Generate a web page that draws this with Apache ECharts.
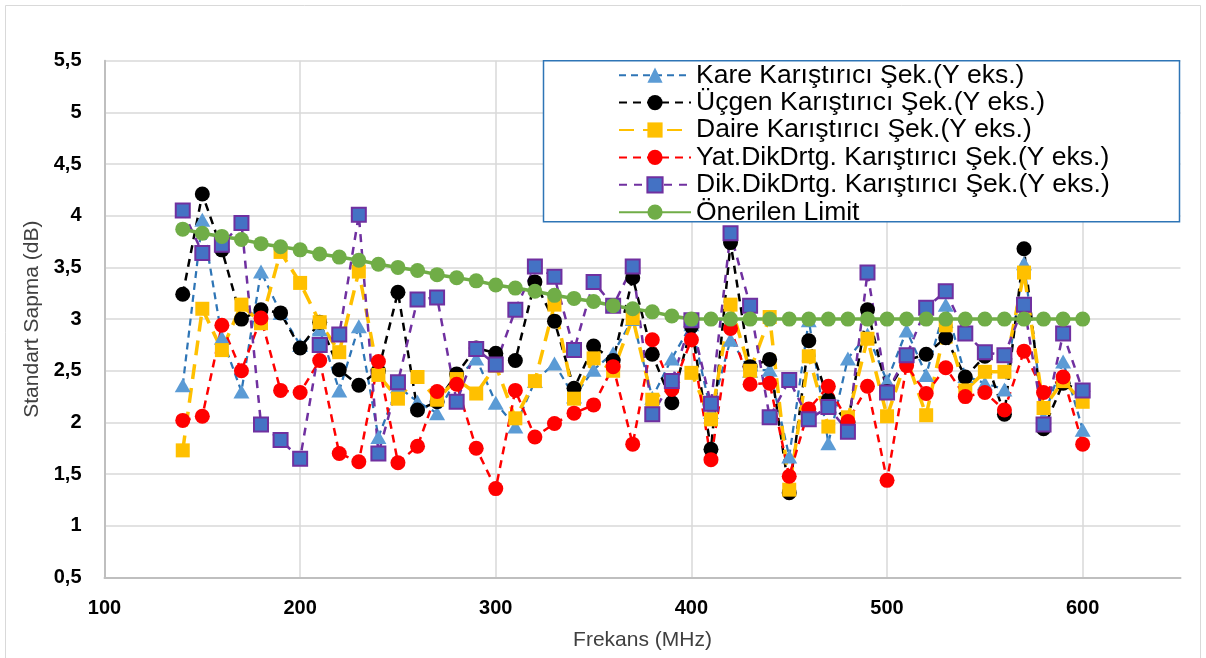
<!DOCTYPE html>
<html>
<head>
<meta charset="utf-8">
<script src="https://cdn.jsdelivr.net/npm/echarts@6/dist/echarts.min.js"></script>
<style>
html,body{margin:0;padding:0;background:#fff;}
#chart{width:1206px;height:658px;}
</style>
</head>
<body>
<div id="chart"></div>
<script>
const freqs = [140,150,160,170,180,190,200,210,220,230,240,250,260,270,280,290,300,310,320,330,340,350,360,370,380,390,400,410,420,430,440,450,460,470,480,490,500,510,520,530,540,550,560,570,580,590,600];

const kare = [2.36,3.96,2.82,2.30,3.46,3.06,2.75,2.90,2.31,2.93,1.86,2.35,2.20,2.09,2.42,2.62,2.19,1.96,2.40,2.57,2.25,2.51,2.67,3.00,2.24,2.62,2.95,2.10,2.80,2.50,2.51,1.67,2.99,1.80,2.62,2.85,2.40,2.89,2.46,3.14,2.45,2.38,2.32,3.54,2.05,2.59,1.93];

const ucgen = [3.24,4.21,3.67,3.00,3.09,3.06,2.72,2.97,2.51,2.36,2.50,3.26,2.12,2.20,2.47,2.72,2.67,2.60,3.36,2.98,2.33,2.74,2.60,3.40,2.66,2.19,2.93,1.74,3.74,2.54,2.61,1.32,2.79,2.22,2.00,3.09,2.30,2.60,2.66,2.82,2.44,2.64,2.08,3.68,1.94,2.38,2.30];

const daire = [1.73,3.10,2.70,3.14,2.96,3.65,3.35,2.97,2.68,3.46,2.46,2.23,2.44,2.22,2.42,2.28,2.55,2.04,2.40,3.14,2.23,2.62,2.50,3.01,2.22,2.35,2.48,2.03,3.14,2.50,3.02,1.35,2.64,1.96,2.05,2.81,2.06,2.62,2.07,2.94,2.31,2.49,2.49,3.45,2.14,2.40,2.20];

const yatDik = [2.02,2.06,2.94,2.50,3.01,2.31,2.29,2.60,1.70,1.62,2.59,1.61,1.77,2.30,2.37,1.75,1.36,2.31,1.86,1.99,2.09,2.17,2.54,1.79,2.80,2.32,2.80,1.64,2.91,2.37,2.38,1.48,2.13,2.35,2.01,2.35,1.44,2.55,2.28,2.53,2.25,2.29,2.12,2.69,2.29,2.44,1.79];

const dikDik = [4.05,3.64,3.72,3.93,1.98,1.83,1.65,2.75,2.85,4.01,1.70,2.39,3.19,3.21,2.20,2.71,2.56,3.09,3.51,3.41,2.70,3.36,3.13,3.51,2.08,2.40,2.99,2.18,3.83,3.13,2.05,2.41,2.03,2.15,1.91,3.45,2.29,2.65,3.11,3.27,2.86,2.68,2.65,3.14,1.98,2.86,2.31];

const limit = [3.87,3.83,3.80,3.77,3.73,3.70,3.67,3.63,3.60,3.57,3.53,3.50,3.47,3.43,3.40,3.37,3.33,3.30,3.27,3.23,3.20,3.17,3.13,3.10,3.07,3.03,3.00,3.00,3.00,3.00,3.00,3.00,3.00,3.00,3.00,3.00,3.00,3.00,3.00,3.00,3.00,3.00,3.00,3.00,3.00,3.00,3.00];

const seriesNames = [
  'Kare Karıştırıcı Şek.(Y eks.)',
  'Üçgen Karıştırıcı Şek.(Y eks.)',
  'Daire Karıştırıcı Şek.(Y eks.)',
  'Yat.DikDrtg. Karıştırıcı Şek.(Y eks.)',
  'Dik.DikDrtg. Karıştırıcı Şek.(Y eks.)',
  'Önerilen Limit'
];

const xTicks = [100,200,300,400,500,600];
const yTicks = ['0,5','1','1,5','2','2,5','3','3,5','4','4,5','5','5,5'];

function pairs(vals){ return freqs.map((f,i)=>[f, vals[i]]); }

const FONT = '"Liberation Sans", Arial, sans-serif';

const chart = echarts.init(document.getElementById('chart'), null, {renderer:'canvas'});

const option = {
  animation: false,
  backgroundColor: '#fff',
  grid: { left: 104.5, right: 25.5, top: 60.7, bottom: 80.5, containLabel: false },
  xAxis: {
    type: 'value', min: 100, max: 650, interval: 100,
    name: 'Frekans (MHz)', nameLocation: 'middle', nameGap: 52,
    nameTextStyle: { fontFamily: FONT, fontSize: 21, color: '#404040' },
    axisLine: { show: true, lineStyle: { color: '#BFBFBF', width: 2 } },
    axisTick: { show: false },
    axisLabel: {
      margin: 21, fontFamily: FONT, fontSize: 20, fontWeight: 'bold', color: '#000',
      showMaxLabel: false,
      formatter: v => (xTicks.indexOf(v) >= 0 ? String(v) : '')
    },
    splitLine: { show: true, showMaxLine: false, lineStyle: { color: '#D9D9D9', width: 1.5 } }
  },
  yAxis: {
    type: 'value', min: 0.5, max: 5.5, interval: 0.5,
    name: 'Standart Sapma (dB)', nameLocation: 'middle', nameGap: 56, nameRotate: 90,
    nameTextStyle: { fontFamily: FONT, fontSize: 21, color: '#404040' },
    axisLine: { show: true, lineStyle: { color: '#BFBFBF', width: 2 } },
    axisTick: { show: false },
    axisLabel: {
      margin: 23, fontFamily: FONT, fontSize: 20, fontWeight: 'bold', color: '#000',
      formatter: v => yTicks[Math.round((v - 0.5) / 0.5)]
    },
    splitLine: { show: true, lineStyle: { color: '#D9D9D9', width: 1.5 } }
  },
  legend: {
    orient: 'vertical', left: 618, top: 61.5, padding: 0, itemGap: 0,
    itemWidth: 72, itemHeight: 19,
    textStyle: { fontFamily: FONT, fontSize: 26.5, lineHeight: 27.4, color: '#000' },
    data: seriesNames
  },
  graphic: {
    elements: [
      { type: 'rect', z: 3, silent: true,
        shape: { x: 543.5, y: 60.7, width: 636, height: 161 },
        style: { fill: '#fff', stroke: '#2E75B6', lineWidth: 1.5 } },
      { type: 'rect', z: -1, silent: true,
        shape: { x: 5.5, y: 5.5, width: 1195, height: 700 },
        style: { fill: 'none', stroke: '#D9D9D9', lineWidth: 1 } }
    ]
  },
  series: [
    { name: seriesNames[0], type: 'line', data: pairs(kare),
      symbol: 'triangle', symbolSize: [16, 14],
      itemStyle: { color: '#5B9BD5' },
      lineStyle: { color: '#2E75B6', width: 2.25, type: [7, 5] } },
    { name: seriesNames[1], type: 'line', data: pairs(ucgen),
      symbol: 'circle', symbolSize: 15,
      itemStyle: { color: '#000' },
      lineStyle: { color: '#000', width: 2.5, type: [8, 6] } },
    { name: seriesNames[2], type: 'line', data: pairs(daire),
      symbol: 'rect', symbolSize: 14,
      itemStyle: { color: '#FFC000' },
      lineStyle: { color: '#FFC000', width: 3.5, type: [15, 9] } },
    { name: seriesNames[3], type: 'line', data: pairs(yatDik),
      symbol: 'circle', symbolSize: 15,
      itemStyle: { color: '#FF0000' },
      lineStyle: { color: '#FF0000', width: 2.5, type: [8, 6] } },
    { name: seriesNames[4], type: 'line', data: pairs(dikDik),
      symbol: 'rect', symbolSize: 14,
      itemStyle: { color: '#4472C4', borderColor: '#7030A0', borderWidth: 2 },
      lineStyle: { color: '#7030A0', width: 2.5, type: [8, 7] } },
    { name: seriesNames[5], type: 'line', data: pairs(limit),
      symbol: 'circle', symbolSize: 15,
      itemStyle: { color: '#70AD47' },
      lineStyle: { color: '#70AD47', width: 3.5, type: 'solid' } }
  ]
};

chart.setOption(option);
</script>
</body>
</html>
